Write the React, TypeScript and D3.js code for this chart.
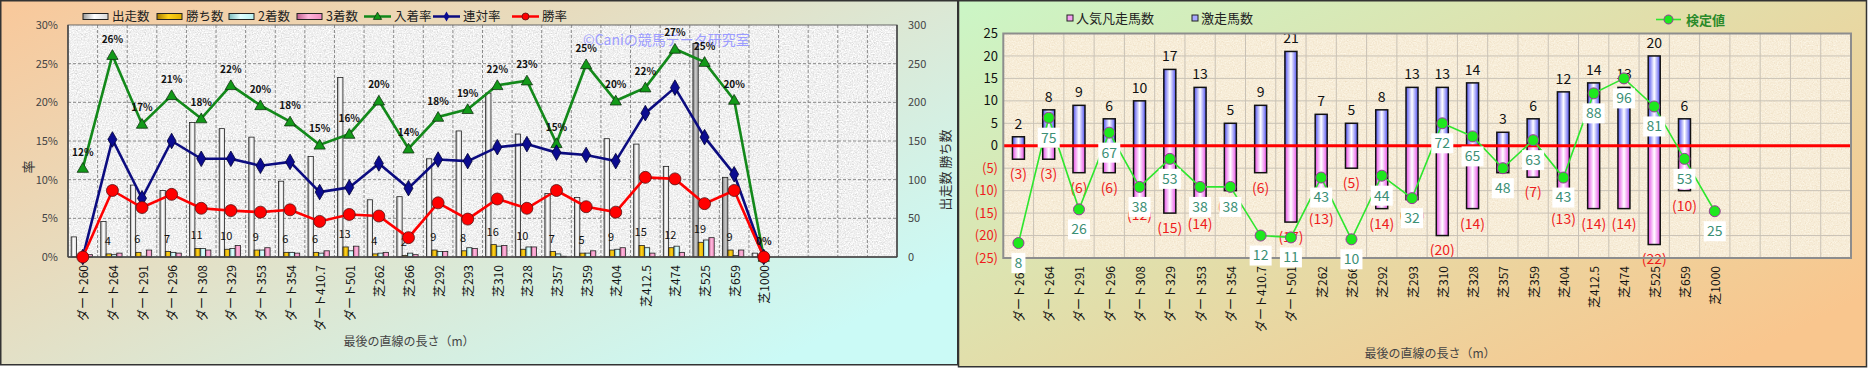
import { useEffect, useRef } from 'react';
import * as d3 from 'd3';

// categories (last straight length)
const categories = [
  'ダート260', 'ダート264', 'ダート291', 'ダート296', 'ダート308', 'ダート329', 'ダート353', 'ダート354', 'ダート410.7', 'ダート501',
  '芝262', '芝266', '芝292', '芝293', '芝310', '芝328', '芝357', '芝359', '芝404', '芝412.5', '芝474', '芝525', '芝659', '芝1000',
];
const slotCount = 28; // the category axis keeps 4 empty slots on the right

// left chart: counts (right axis)
const starts = [26, 46, 93, 86, 174, 166, 155, 98, 130, 232, 74, 78, 127, 163, 212, 159, 82, 77, 153, 146, 117, 276, 103, 5];
const wins = [0, 4, 6, 7, 11, 10, 9, 6, 6, 13, 4, 2, 9, 8, 16, 10, 7, 5, 9, 15, 12, 19, 9, 0];
const seconds = [0, 3, 1, 6, 11, 11, 9, 6, 5, 8, 5, 5, 7, 12, 14, 13, 4, 5, 10, 12, 14, 22, 2, 0];
const thirds = [3, 5, 9, 5, 9, 15, 12, 5, 8, 14, 6, 3, 7, 11, 15, 13, 1, 8, 12, 5, 6, 25, 9, 0];
// left chart: rates (%)
const placeRate = [11.5, 26.1, 17.2, 20.9, 17.9, 22.2, 19.6, 17.5, 14.5, 15.9, 20.2, 14.0, 18.1, 19.1, 22.2, 22.8, 14.7, 24.9, 20.2, 21.9, 26.9, 25.2, 20.3, 0];
const quinellaRate = [0, 15.2, 7.6, 15.0, 12.7, 12.7, 11.8, 12.3, 8.4, 9.0, 12.1, 8.9, 12.6, 12.4, 14.2, 14.6, 13.5, 13.2, 12.4, 18.6, 21.9, 15.5, 10.7, 0];
const winRate = [0, 8.6, 6.4, 8.1, 6.3, 6.0, 5.8, 6.1, 4.6, 5.5, 5.3, 2.5, 7.0, 4.9, 7.5, 6.3, 8.6, 6.5, 5.8, 10.3, 10.1, 6.9, 8.6, 0];
const leftPctTicks = [0, 5, 10, 15, 20, 25, 30];
const leftCountTicks = [0, 50, 100, 150, 200, 250, 300];
const greyStartCats = ['芝525', '芝659'];

// right chart
const upsets = [2, 8, 9, 6, 10, 17, 13, 5, 9, 21, 7, 5, 8, 13, 13, 14, 3, 6, 12, 14, 13, 20, 6, 0];
const flops = [3, 3, 6, 6, 12, 15, 14, 10, 6, 17, 13, 5, 14, 12, 20, 14, 6, 7, 13, 14, 14, 22, 10, 0];
const testValues = [8, 75, 26, 67, 38, 53, 38, 38, 12, 11, 43, 10, 44, 32, 72, 65, 48, 63, 43, 88, 96, 81, 53, 25];
const rightTicks = [-25, -20, -15, -10, -5, 0, 5, 10, 15, 20, 25];

const FONT = "'Noto Sans CJK JP', 'Noto Sans', sans-serif";

export default function App() {
  const ref = useRef<SVGSVGElement>(null);

  useEffect(() => {
    if (!ref.current) return;
    const svg = d3.select(ref.current);
    svg.selectAll('*').remove();
    svg.attr('width', 1869).attr('height', 368).style('font-family', FONT);

    const defs = svg.append('defs');
    const grad = (id: string, stops: [string, string][]) => {
      const g = defs.append('linearGradient').attr('id', id)
        .attr('x1', 0).attr('y1', 0).attr('x2', 1).attr('y2', 0);
      stops.forEach(([o, c]) => g.append('stop').attr('offset', o).attr('stop-color', c));
    };
    grad('gStart', [['0%', '#9a9a9a'], ['45%', '#ffffff'], ['100%', '#d8d8d8']]);
    grad('gStartGrey', [['0%', '#777'], ['50%', '#c8c8c8'], ['100%', '#999']]);
    grad('gWin', [['0%', '#a87c00'], ['45%', '#ffd21a'], ['100%', '#e0ae00']]);
    grad('gSecond', [['0%', '#7fbcbc'], ['45%', '#e2ffff'], ['100%', '#b8f0f0']]);
    grad('gThird', [['0%', '#c0608f'], ['45%', '#ffb6dc'], ['100%', '#f08cc0']]);
    grad('gBlue', [['0%', '#5050f0'], ['50%', '#ffffff'], ['100%', '#5050f0']]);
    grad('gPink', [['0%', '#e850e8'], ['50%', '#ffffff'], ['100%', '#e850e8']]);

    const diag = (id: string, x0: number, x1: number, y0: number, y1: number, c0: string, c1: string) => {
      const g = defs.append('linearGradient').attr('id', id).attr('gradientUnits', 'userSpaceOnUse')
        .attr('x1', x0).attr('y1', y0).attr('x2', x1).attr('y2', y1);
      g.append('stop').attr('offset', '0%').attr('stop-color', c0);
      g.append('stop').attr('offset', '100%').attr('stop-color', c1);
    };
    diag('bgLeft', 0, 300, 0, 600, '#f9c89a', '#cbfaf6');
    diag('bgRight', 958, 1258, 0, 600, '#cbf6c6', '#f9c68e');

    // granite / paper textures for the plot areas
    const noise = (id: string, r: [number, number], g: [number, number], b: [number, number]) => {
      const f = defs.append('filter').attr('id', id).attr('x', 0).attr('y', 0).attr('width', 1).attr('height', 1)
        .attr('color-interpolation-filters', 'sRGB');
      f.append('feTurbulence').attr('type', 'fractalNoise').attr('baseFrequency', 0.75).attr('numOctaves', 3).attr('seed', 4);
      f.append('feColorMatrix').attr('type', 'matrix')
        .attr('values', '0.33 0.33 0.33 0 0  0.33 0.33 0.33 0 0  0.33 0.33 0.33 0 0  0 0 0 0 1');
      const ct = f.append('feComponentTransfer');
      ct.append('feFuncR').attr('type', 'linear').attr('slope', r[0]).attr('intercept', r[1]);
      ct.append('feFuncG').attr('type', 'linear').attr('slope', g[0]).attr('intercept', g[1]);
      ct.append('feFuncB').attr('type', 'linear').attr('slope', b[0]).attr('intercept', b[1]);
    };
    noise('granite', [0.45, 0.72], [0.45, 0.72], [0.45, 0.72]);
    noise('paper', [0.12, 0.91], [0.2, 0.83], [0.3, 0.7]);

    // ---------------- left chart ----------------
    svg.append('rect').attr('x', 0.75).attr('y', 0.75).attr('width', 957).attr('height', 364)
      .attr('fill', 'url(#bgLeft)').attr('stroke', '#333').attr('stroke-width', 1.5);

    const L = { left: 68, right: 897, top: 25, bottom: 257 };
    const x0 = d3.scaleBand<number>().domain(d3.range(slotCount)).range([L.left, L.right]);
    const series = ['starts', 'wins', 'seconds', 'thirds'];
    const x1 = d3.scaleBand<string>().domain(series).range([-1, x0.bandwidth() - 1]).paddingOuter(0.78);
    const yPct = d3.scaleLinear().domain([0, 30]).range([L.bottom, L.top]);
    const yCnt = d3.scaleLinear().domain([0, 300]).range([L.bottom, L.top]);
    const cx = (i: number) => x0(i)! + x0.bandwidth() / 2;

    svg.append('rect').attr('x', L.left).attr('y', L.top).attr('width', L.right - L.left).attr('height', L.bottom - L.top)
      .attr('filter', 'url(#granite)');

    const gl = svg.append('g');
    gl.selectAll('line.h').data(leftPctTicks.slice(1, -1)).enter().append('line')
      .attr('x1', L.left).attr('x2', L.right).attr('y1', (d) => yPct(d)).attr('y2', (d) => yPct(d))
      .attr('stroke', '#8a8a8a').attr('stroke-dasharray', '3,2');
    gl.selectAll('line.v').data(d3.range(1, slotCount)).enter().append('line')
      .attr('x1', (d) => x0(d)!).attr('x2', (d) => x0(d)!).attr('y1', L.top).attr('y2', L.bottom)
      .attr('stroke', '#8a8a8a').attr('stroke-dasharray', '3,2');

    // bars
    const counts: Record<string, number[]> = { starts, wins, seconds, thirds };
    const fills: Record<string, string> = { starts: 'url(#gStart)', wins: 'url(#gWin)', seconds: 'url(#gSecond)', thirds: 'url(#gThird)' };
    series.forEach((s) => {
      svg.append('g').selectAll('rect').data(counts[s]).enter().append('rect')
        .attr('x', (_, i) => x0(i)! + x1(s)!)
        .attr('y', (d) => yCnt(d))
        .attr('width', x1.bandwidth())
        .attr('height', (d) => L.bottom - yCnt(d))
        .attr('fill', (_, i) => (s === 'starts' && greyStartCats.includes(categories[i]) ? 'url(#gStartGrey)' : fills[s]))
        .attr('stroke', '#222').attr('stroke-width', 0.8);
    });
    // win count labels
    svg.append('g').selectAll('text').data(wins.map((v, i) => ({ v, i })).filter((d) => d.v > 0)).enter().append('text')
      .attr('x', (d) => x0(d.i)! + x1('wins')! + x1.bandwidth() / 2 - 1)
      .attr('y', (d) => yCnt(d.v) - 9)
      .attr('text-anchor', 'middle').attr('font-size', 11).attr('fill', '#111')
      .text((d) => d.v);

    // axes frame
    svg.append('rect').attr('x', L.left).attr('y', L.top).attr('width', L.right - L.left).attr('height', L.bottom - L.top)
      .attr('fill', 'none').attr('stroke', '#666').attr('stroke-width', 1);
    svg.append('line').attr('x1', L.left).attr('x2', L.left).attr('y1', L.top).attr('y2', L.bottom).attr('stroke', '#444').attr('stroke-width', 1.5);
    svg.append('line').attr('x1', L.left).attr('x2', L.right).attr('y1', L.bottom).attr('y2', L.bottom).attr('stroke', '#444').attr('stroke-width', 1.5);
    svg.append('line').attr('x1', L.right).attr('x2', L.right).attr('y1', L.top).attr('y2', L.bottom).attr('stroke', '#444').attr('stroke-width', 1.5);

    svg.append('g').selectAll('text').data(leftPctTicks).enter().append('text')
      .attr('x', 58).attr('y', (d) => yPct(d)).attr('dy', '0.35em').attr('text-anchor', 'end')
      .attr('font-size', 11).attr('fill', '#444').text((d) => `${d}%`);
    svg.append('g').selectAll('text').data(leftCountTicks).enter().append('text')
      .attr('x', 908).attr('y', (d) => yCnt(d)).attr('dy', '0.35em').attr('text-anchor', 'start')
      .attr('font-size', 11).attr('fill', '#444').text((d) => d);

    svg.append('text').attr('transform', 'translate(27,167) rotate(-90)').attr('text-anchor', 'middle')
      .attr('dominant-baseline', 'central').attr('font-size', 13).attr('fill', '#333').text('率');
    svg.append('text').attr('transform', 'translate(944,170) rotate(-90)').attr('text-anchor', 'middle')
      .attr('dominant-baseline', 'central').attr('font-size', 13).attr('fill', '#333').text('出走数 勝ち数');

    svg.append('g').selectAll('text').data(categories).enter().append('text')
      .attr('transform', (_, i) => `translate(${cx(i)},265) rotate(-90)`)
      .attr('text-anchor', 'end').attr('dominant-baseline', 'central')
      .attr('font-size', 12).attr('fill', '#111').text((d) => d);
    svg.append('text').attr('x', 409).attr('y', 342).attr('dy', '0.35em').attr('text-anchor', 'middle')
      .attr('font-size', 12).attr('fill', '#444').text('最後の直線の長さ（m）');

    svg.append('text').attr('x', 583).attr('y', 40).attr('dy', '0.35em').attr('font-size', 14)
      .attr('fill', '#9c9cff').text('©Caniの競馬データ研究室');

    // lines
    const lineL = (vals: number[]) => d3.line<number>().x((_, i) => cx(i)).y((d) => yPct(d))(vals);
    const triangle = d3.symbol().type(d3.symbolTriangle).size(55)();
    const diamond = d3.symbol().type(d3.symbolDiamond).size(70)();

    svg.append('path').attr('d', lineL(placeRate)).attr('fill', 'none').attr('stroke', '#13891a').attr('stroke-width', 2.6);
    svg.append('g').selectAll('path').data(placeRate).enter().append('path')
      .attr('d', triangle).attr('transform', (d, i) => `translate(${cx(i)},${yPct(d) + 1})`)
      .attr('fill', '#129a18').attr('stroke', '#113311').attr('stroke-width', 0.8);
    svg.append('path').attr('d', lineL(quinellaRate)).attr('fill', 'none').attr('stroke', '#0c0c80').attr('stroke-width', 2.6);
    svg.append('g').selectAll('path').data(quinellaRate).enter().append('path')
      .attr('d', diamond).attr('transform', (d, i) => `translate(${cx(i)},${yPct(d)})`)
      .attr('fill', '#0c0c90').attr('stroke', '#000033').attr('stroke-width', 0.8);
    svg.append('path').attr('d', lineL(winRate)).attr('fill', 'none').attr('stroke', '#ff0000').attr('stroke-width', 2.6);
    svg.append('g').selectAll('circle').data(winRate).enter().append('circle')
      .attr('cx', (_, i) => cx(i)).attr('cy', (d) => yPct(d)).attr('r', 6)
      .attr('fill', '#ff0000').attr('stroke', '#551111').attr('stroke-width', 0.8);

    svg.append('g').selectAll('text').data(placeRate).enter().append('text')
      .attr('x', (_, i) => cx(i)).attr('y', (d) => yPct(d) - 16).attr('dy', '0.35em')
      .attr('text-anchor', 'middle').attr('font-size', 10).attr('font-weight', 'bold').attr('fill', '#111')
      .text((d) => `${Math.round(d)}%`);

    // left legend
    const legL = svg.append('g').attr('font-size', 12.5).attr('fill', '#222');
    const boxItems = [
      { x: 83, fill: 'url(#gStart)', label: '出走数' },
      { x: 157, fill: 'url(#gWin)', label: '勝ち数' },
      { x: 229, fill: 'url(#gSecond)', label: '2着数' },
      { x: 297, fill: 'url(#gThird)', label: '3着数' },
    ];
    boxItems.forEach((it) => {
      legL.append('rect').attr('x', it.x).attr('y', 13.5).attr('width', 25).attr('height', 6)
        .attr('fill', it.fill).attr('stroke', '#222').attr('stroke-width', 1);
      legL.append('text').attr('x', it.x + 29).attr('y', 17).attr('dy', '0.35em').text(it.label);
    });
    const lineItems = [
      { x: 364, color: '#13891a', mark: 'tri', label: '入着率' },
      { x: 433, color: '#0c0c80', mark: 'dia', label: '連対率' },
      { x: 512, color: '#ff0000', mark: 'cir', label: '勝率' },
    ];
    lineItems.forEach((it) => {
      legL.append('line').attr('x1', it.x).attr('x2', it.x + 27).attr('y1', 16.5).attr('y2', 16.5)
        .attr('stroke', it.color).attr('stroke-width', 2.5);
      if (it.mark === 'tri') legL.append('path').attr('d', d3.symbol().type(d3.symbolTriangle).size(30)()).attr('transform', `translate(${it.x + 13.5},17)`).attr('fill', '#129a18').attr('stroke', '#113311').attr('stroke-width', 0.8);
      if (it.mark === 'dia') legL.append('path').attr('d', d3.symbol().type(d3.symbolDiamond).size(30)()).attr('transform', `translate(${it.x + 13.5},16.5)`).attr('fill', '#0c0c90');
      if (it.mark === 'cir') legL.append('circle').attr('cx', it.x + 13.5).attr('cy', 16.5).attr('r', 3.5).attr('fill', '#ff0000').attr('stroke', '#551111').attr('stroke-width', 0.8);
      legL.append('text').attr('x', it.x + 30).attr('y', 17).attr('dy', '0.35em').text(it.label);
    });

    // ---------------- right chart ----------------
    svg.append('rect').attr('x', 958.5).attr('y', 0.75).attr('width', 908).attr('height', 366)
      .attr('fill', 'url(#bgRight)').attr('stroke', '#333').attr('stroke-width', 1.5);

    const R = { left: 1003.3, right: 1851, top: 33.5, bottom: 258 };
    const xr = d3.scaleBand<number>().domain(d3.range(slotCount)).range([R.left, R.right]);
    const yr = d3.scaleLinear().domain([-25, 25]).range([R.bottom, R.top]);
    const yt = d3.scaleLinear().domain([0, 120]).range([R.bottom, R.top]); // hidden secondary axis
    const rx = (i: number) => xr(i)! + xr.bandwidth() / 2;
    const barW = 12;

    svg.append('rect').attr('x', R.left).attr('y', R.top).attr('width', R.right - R.left).attr('height', R.bottom - R.top)
      .attr('filter', 'url(#paper)');
    const gr = svg.append('g').attr('stroke', '#c9c2b6').attr('stroke-width', 1);
    gr.selectAll('line.h').data(rightTicks.slice(1, -1)).enter().append('line')
      .attr('x1', R.left).attr('x2', R.right).attr('y1', (d) => yr(d)).attr('y2', (d) => yr(d));
    gr.selectAll('line.v').data(d3.range(1, slotCount)).enter().append('line')
      .attr('x1', (d) => xr(d)!).attr('x2', (d) => xr(d)!).attr('y1', R.top).attr('y2', R.bottom);

    const upData = upsets.map((v, i) => ({ v, i })).filter((d) => d.v > 0);
    const flopData = flops.map((v, i) => ({ v, i })).filter((d) => d.v > 0);
    svg.append('g').selectAll('rect').data(upData).enter().append('rect')
      .attr('x', (d) => rx(d.i) - barW / 2).attr('y', (d) => yr(d.v))
      .attr('width', barW).attr('height', (d) => yr(0) - yr(d.v))
      .attr('fill', 'url(#gBlue)').attr('stroke', '#111').attr('stroke-width', 1.5);
    svg.append('g').selectAll('rect').data(flopData).enter().append('rect')
      .attr('x', (d) => rx(d.i) - barW / 2).attr('y', yr(0))
      .attr('width', barW).attr('height', (d) => yr(-d.v) - yr(0))
      .attr('fill', 'url(#gPink)').attr('stroke', '#111').attr('stroke-width', 1.5);

    svg.append('g').selectAll('text').data(upData).enter().append('text')
      .attr('x', (d) => rx(d.i)).attr('y', (d) => yr(d.v) - 13).attr('dy', '0.35em')
      .attr('text-anchor', 'middle').attr('font-size', 14).attr('fill', '#111').text((d) => d.v);
    svg.append('g').selectAll('text').data(flopData).enter().append('text')
      .attr('x', (d) => rx(d.i)).attr('y', (d) => yr(-d.v) + 15).attr('dy', '0.35em')
      .attr('text-anchor', 'middle').attr('font-size', 14).attr('fill', '#ee1c1c').text((d) => `(${d.v})`);

    // zero line
    svg.append('line').attr('x1', R.left).attr('x2', R.right).attr('y1', yr(0)).attr('y2', yr(0))
      .attr('stroke', '#ff0000').attr('stroke-width', 3);

    // frame
    svg.append('rect').attr('x', R.left).attr('y', R.top).attr('width', R.right - R.left).attr('height', R.bottom - R.top)
      .attr('fill', 'none').attr('stroke', '#8d8d8d').attr('stroke-width', 2);
    svg.append('g').selectAll('text').data(rightTicks).enter().append('text')
      .attr('x', 998).attr('y', (d) => yr(d)).attr('dy', '0.35em').attr('text-anchor', 'end')
      .attr('font-size', 13).attr('fill', (d) => (d < 0 ? '#ee1c1c' : '#111'))
      .text((d) => (d < 0 ? `(${-d})` : d));
    svg.append('g').selectAll('text').data(categories).enter().append('text')
      .attr('transform', (_, i) => `translate(${rx(i)},266) rotate(-90)`)
      .attr('text-anchor', 'end').attr('dominant-baseline', 'central')
      .attr('font-size', 12).attr('fill', '#111').text((d) => d);
    svg.append('text').attr('x', 1430).attr('y', 354).attr('dy', '0.35em').attr('text-anchor', 'middle')
      .attr('font-size', 12).attr('fill', '#444').text('最後の直線の長さ（m）');

    // test value line
    const lineT = d3.line<number>().x((_, i) => rx(i)).y((d) => yt(d));
    svg.append('path').attr('d', lineT(testValues)).attr('fill', 'none').attr('stroke', '#2ee62e').attr('stroke-width', 1.6);
    svg.append('g').selectAll('circle').data(testValues).enter().append('circle')
      .attr('cx', (_, i) => rx(i)).attr('cy', (d) => yt(d)).attr('r', 5.5)
      .attr('fill', '#1ee81e').attr('stroke', '#9a3a9a').attr('stroke-width', 1);
    const tl = svg.append('g').selectAll('g').data(testValues).enter().append('g')
      .attr('transform', (d, i) => `translate(${rx(i)},${yt(d) + 20})`);
    tl.append('rect').attr('x', (d) => (d >= 10 ? -11 : -7)).attr('y', -10)
      .attr('width', (d) => (d >= 10 ? 22 : 14)).attr('height', 20).attr('fill', '#fff');
    tl.append('text').attr('text-anchor', 'middle').attr('dy', '0.35em').attr('font-size', 14)
      .attr('fill', '#3b8f75').text((d) => d);

    // right legend
    const legR = svg.append('g').attr('font-size', 13).attr('fill', '#222');
    [
      { x: 1067, fill: '#f4a0f0', label: '人気凡走馬数' },
      { x: 1192, fill: '#a8a8ff', label: '激走馬数' },
    ].forEach((it) => {
      legR.append('rect').attr('x', it.x).attr('y', 15).attr('width', 6).attr('height', 6)
        .attr('fill', it.fill).attr('stroke', '#222').attr('stroke-width', 1);
      legR.append('text').attr('x', it.x + 9).attr('y', 18).attr('dy', '0.35em').text(it.label);
    });
    legR.append('line').attr('x1', 1656).attr('x2', 1681).attr('y1', 19.5).attr('y2', 19.5).attr('stroke', '#2ee62e').attr('stroke-width', 1.6);
    legR.append('circle').attr('cx', 1668.5).attr('cy', 19.5).attr('r', 4.5).attr('fill', '#1ee81e').attr('stroke', '#9a3a9a');
    legR.append('text').attr('x', 1686).attr('y', 20).attr('dy', '0.35em').attr('font-weight', 'bold')
      .attr('fill', '#2a8a2a').text('検定値');
  }, []);

  return <svg ref={ref} style={{ position: 'absolute', left: 0, top: 0 }} />;
}
